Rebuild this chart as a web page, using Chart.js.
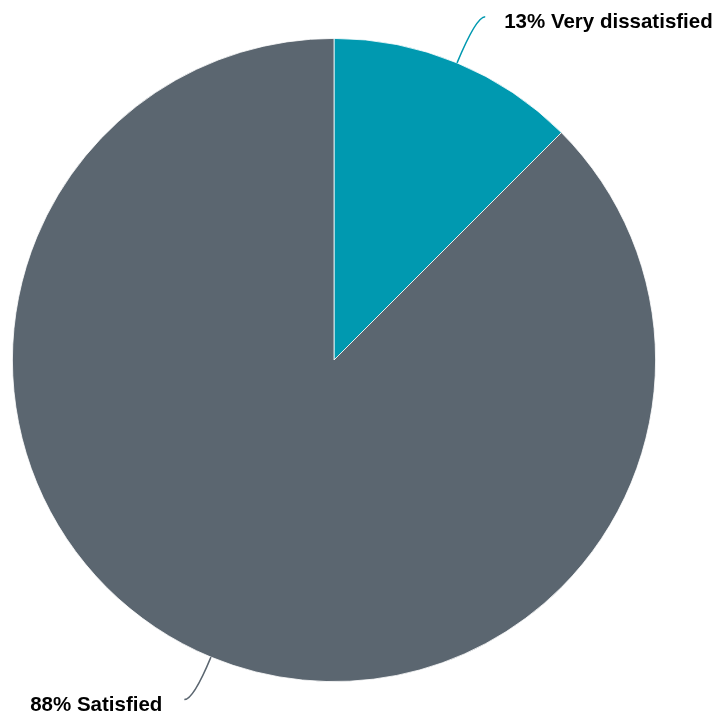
<!DOCTYPE html>
<html>
<head>
<meta charset="utf-8">
<script src="https://cdn.jsdelivr.net/npm/chart.js@4/dist/chart.umd.min.js"></script>
<style>
  html, body { margin: 0; padding: 0; background: #fff; }
  #wrap { width: 717px; height: 717px; }
</style>
</head>
<body>
<div id="wrap"><canvas id="pie" width="717" height="717"></canvas></div>
<script>
// slice data
const categories = ["Very dissatisfied", "Satisfied"];
const shares = [12.5, 87.5];
const sliceColors = ["#0099b0", "#5b6670"];

// leader lines + outside labels
const calloutPlugin = {
  id: "callouts",
  afterDatasetsDraw(chart) {
    const ctx = chart.ctx;
    const meta = chart.getDatasetMeta(0);
    ctx.save();
    ctx.font = "bold 20.5px 'Liberation Sans', Arial, sans-serif";
    ctx.textBaseline = "middle";
    meta.data.forEach((arc, i) => {
      const mid = (arc.startAngle + arc.endAngle) / 2;
      const r = arc.outerRadius;
      const sx = arc.x + Math.cos(mid) * r;
      const sy = arc.y + Math.sin(mid) * r;
      const right = Math.cos(mid) >= 0;
      const ext = right ? 50 : 46;
      const cx = sx + Math.cos(mid) * ext;
      const cy = sy + Math.sin(mid) * ext;
      const ex = cx + (right ? 9 : -9);
      ctx.strokeStyle = sliceColors[i];
      ctx.lineWidth = 1.5;
      ctx.beginPath();
      ctx.moveTo(sx, sy);
      ctx.quadraticCurveTo(cx, cy, ex, cy);
      ctx.stroke();
      const txt = Math.round(shares[i]) + "% " + categories[i];
      ctx.fillStyle = "#000";
      ctx.textAlign = right ? "left" : "right";
      ctx.fillText(txt, ex + (right ? 19 : -22), cy + 6);
    });
    ctx.restore();
  }
};

new Chart(document.getElementById("pie"), {
  type: "pie",
  data: {
    labels: categories,
    datasets: [{
      data: shares,
      backgroundColor: sliceColors,
      borderColor: "#ffffff",
      borderWidth: 0.8
    }]
  },
  options: {
    responsive: false,
    animation: false,
    layout: { padding: { left: 12, right: 61, top: 38, bottom: 35 } },
    plugins: {
      legend: { display: false },
      tooltip: { enabled: false }
    }
  },
  plugins: [calloutPlugin]
});
</script>
</body>
</html>
